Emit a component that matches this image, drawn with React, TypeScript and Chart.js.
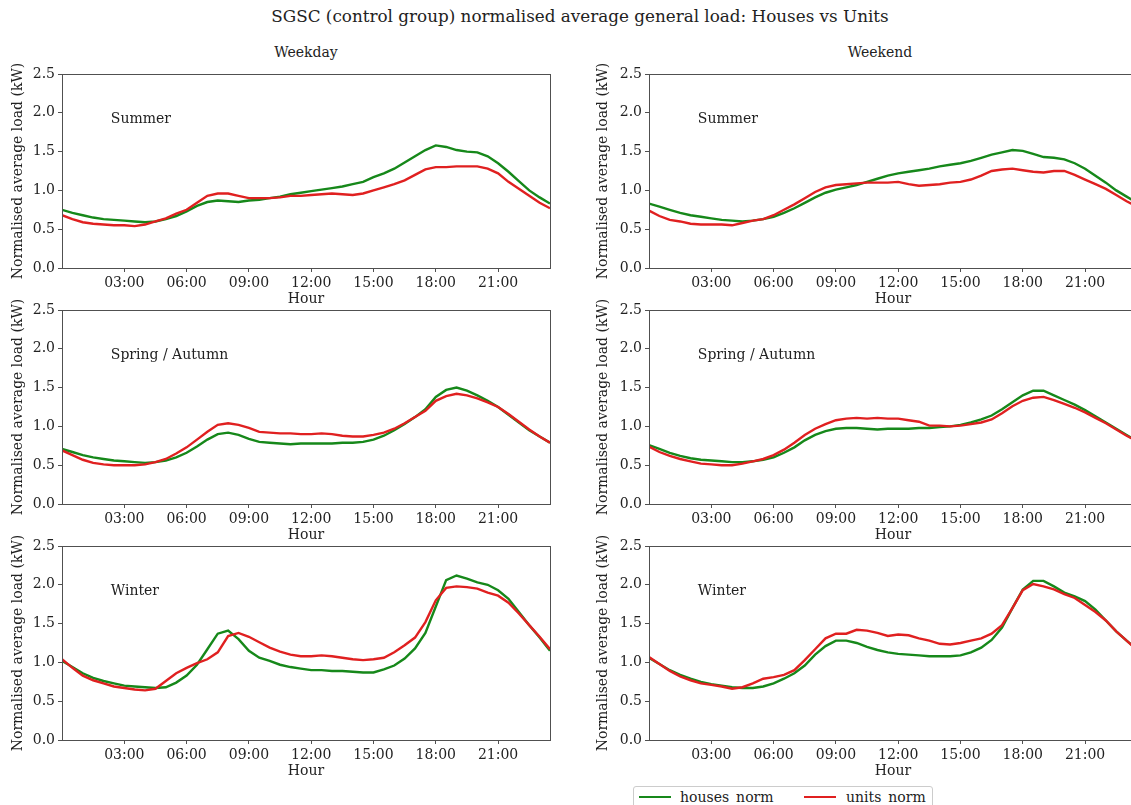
import React, { useEffect, useRef } from "react";
import { Chart, registerables } from "chart.js";

Chart.register(...registerables);

const HOURS = [0, 0.5, 1, 1.5, 2, 2.5, 3, 3.5, 4, 4.5, 5, 5.5, 6, 6.5, 7, 7.5, 8, 8.5, 9, 9.5, 10, 10.5, 11, 11.5, 12, 12.5, 13, 13.5, 14, 14.5, 15, 15.5, 16, 16.5, 17, 17.5, 18, 18.5, 19, 19.5, 20, 20.5, 21, 21.5, 22, 22.5, 23, 23.5];

const X_TICKS = [3, 6, 9, 12, 15, 18, 21];
const X_TICK_LABELS = ["03:00", "06:00", "09:00", "12:00", "15:00", "18:00", "21:00"];

const WD_SUMMER_HOUSES = [0.75, 0.71, 0.68, 0.65, 0.63, 0.62, 0.61, 0.60, 0.59, 0.60, 0.63, 0.67, 0.73, 0.80, 0.85, 0.87, 0.86, 0.85, 0.87, 0.88, 0.90, 0.92, 0.95, 0.97, 0.99, 1.01, 1.03, 1.05, 1.08, 1.11, 1.17, 1.22, 1.28, 1.36, 1.44, 1.52, 1.58, 1.56, 1.52, 1.50, 1.49, 1.44, 1.35, 1.24, 1.12, 1.00, 0.91, 0.83];
const WD_SUMMER_UNITS = [0.68, 0.63, 0.59, 0.57, 0.56, 0.55, 0.55, 0.54, 0.56, 0.60, 0.64, 0.70, 0.75, 0.84, 0.93, 0.96, 0.96, 0.93, 0.90, 0.90, 0.90, 0.91, 0.93, 0.93, 0.94, 0.95, 0.96, 0.95, 0.94, 0.96, 1.00, 1.04, 1.08, 1.13, 1.20, 1.27, 1.30, 1.30, 1.31, 1.31, 1.31, 1.28, 1.22, 1.11, 1.02, 0.93, 0.84, 0.77];

const WE_SUMMER_HOUSES = [0.83, 0.79, 0.75, 0.71, 0.68, 0.66, 0.64, 0.62, 0.61, 0.60, 0.61, 0.63, 0.66, 0.71, 0.77, 0.84, 0.91, 0.97, 1.01, 1.04, 1.07, 1.11, 1.15, 1.19, 1.22, 1.24, 1.26, 1.28, 1.31, 1.33, 1.35, 1.38, 1.42, 1.46, 1.49, 1.52, 1.51, 1.47, 1.43, 1.42, 1.40, 1.35, 1.28, 1.19, 1.10, 1.00, 0.92, 0.84];
const WE_SUMMER_UNITS = [0.74, 0.67, 0.62, 0.60, 0.57, 0.56, 0.56, 0.56, 0.55, 0.58, 0.61, 0.63, 0.68, 0.75, 0.82, 0.90, 0.98, 1.04, 1.07, 1.08, 1.09, 1.10, 1.10, 1.10, 1.11, 1.08, 1.06, 1.07, 1.08, 1.10, 1.11, 1.14, 1.19, 1.25, 1.27, 1.28, 1.26, 1.24, 1.23, 1.25, 1.25, 1.20, 1.14, 1.08, 1.02, 0.94, 0.86, 0.79];

const WD_SPRING_HOUSES = [0.71, 0.67, 0.63, 0.60, 0.58, 0.56, 0.55, 0.54, 0.53, 0.54, 0.56, 0.60, 0.66, 0.74, 0.83, 0.90, 0.92, 0.89, 0.84, 0.80, 0.79, 0.78, 0.77, 0.78, 0.78, 0.78, 0.78, 0.79, 0.79, 0.80, 0.83, 0.88, 0.95, 1.03, 1.12, 1.22, 1.38, 1.47, 1.50, 1.46, 1.40, 1.33, 1.25, 1.15, 1.05, 0.95, 0.87, 0.79];
const WD_SPRING_UNITS = [0.69, 0.63, 0.57, 0.53, 0.51, 0.50, 0.50, 0.50, 0.51, 0.54, 0.58, 0.65, 0.73, 0.83, 0.93, 1.02, 1.04, 1.02, 0.98, 0.93, 0.92, 0.91, 0.91, 0.90, 0.90, 0.91, 0.90, 0.88, 0.87, 0.87, 0.89, 0.92, 0.97, 1.04, 1.12, 1.20, 1.33, 1.39, 1.42, 1.40, 1.36, 1.31, 1.25, 1.16, 1.06, 0.96, 0.87, 0.79];

const WE_SPRING_HOUSES = [0.76, 0.71, 0.66, 0.62, 0.59, 0.57, 0.56, 0.55, 0.54, 0.54, 0.55, 0.57, 0.60, 0.66, 0.73, 0.82, 0.89, 0.94, 0.97, 0.98, 0.98, 0.97, 0.96, 0.97, 0.97, 0.97, 0.98, 0.98, 0.99, 1.00, 1.02, 1.05, 1.09, 1.14, 1.22, 1.31, 1.40, 1.46, 1.46, 1.40, 1.34, 1.28, 1.21, 1.13, 1.05, 0.97, 0.89, 0.81];
const WE_SPRING_UNITS = [0.74, 0.67, 0.62, 0.58, 0.55, 0.52, 0.51, 0.50, 0.50, 0.52, 0.55, 0.58, 0.63, 0.70, 0.79, 0.89, 0.97, 1.03, 1.08, 1.10, 1.11, 1.10, 1.11, 1.10, 1.10, 1.08, 1.06, 1.01, 1.01, 1.00, 1.01, 1.03, 1.05, 1.09, 1.17, 1.26, 1.33, 1.37, 1.38, 1.34, 1.29, 1.24, 1.18, 1.11, 1.04, 0.96, 0.88, 0.81];

const WD_WINTER_HOUSES = [1.02, 0.94, 0.86, 0.80, 0.76, 0.73, 0.70, 0.69, 0.68, 0.67, 0.68, 0.74, 0.83, 0.97, 1.17, 1.37, 1.41, 1.30, 1.15, 1.06, 1.02, 0.97, 0.94, 0.92, 0.90, 0.90, 0.89, 0.89, 0.88, 0.87, 0.87, 0.91, 0.96, 1.05, 1.18, 1.38, 1.72, 2.06, 2.12, 2.08, 2.03, 2.00, 1.93, 1.82, 1.65, 1.48, 1.32, 1.15];
const WD_WINTER_UNITS = [1.04, 0.93, 0.83, 0.77, 0.73, 0.69, 0.67, 0.65, 0.64, 0.66, 0.76, 0.86, 0.93, 0.99, 1.04, 1.13, 1.34, 1.38, 1.33, 1.26, 1.19, 1.14, 1.10, 1.08, 1.08, 1.09, 1.08, 1.06, 1.04, 1.03, 1.04, 1.06, 1.13, 1.22, 1.32, 1.52, 1.80, 1.96, 1.98, 1.97, 1.95, 1.90, 1.86, 1.77, 1.63, 1.48, 1.33, 1.17];

const WE_WINTER_HOUSES = [1.06, 0.98, 0.90, 0.84, 0.79, 0.75, 0.72, 0.70, 0.68, 0.67, 0.67, 0.69, 0.73, 0.79, 0.86, 0.96, 1.10, 1.21, 1.28, 1.28, 1.25, 1.20, 1.16, 1.13, 1.11, 1.10, 1.09, 1.08, 1.08, 1.08, 1.09, 1.13, 1.19, 1.29, 1.45, 1.70, 1.94, 2.05, 2.05, 1.98, 1.90, 1.85, 1.79, 1.68, 1.54, 1.40, 1.28, 1.17];
const WE_WINTER_UNITS = [1.07, 0.98, 0.89, 0.82, 0.77, 0.73, 0.71, 0.69, 0.66, 0.68, 0.73, 0.79, 0.81, 0.84, 0.90, 1.03, 1.17, 1.31, 1.37, 1.37, 1.42, 1.41, 1.38, 1.34, 1.36, 1.35, 1.31, 1.28, 1.24, 1.23, 1.25, 1.28, 1.31, 1.37, 1.48, 1.70, 1.93, 2.01, 1.98, 1.94, 1.88, 1.83, 1.74, 1.65, 1.54, 1.40, 1.28, 1.16];

const TITLE = "SGSC (control group) normalised average general load: Houses vs Units";
const COLUMN_TITLES = ["Weekday", "Weekend"];
const SEASONS = ["Summer", "Spring / Autumn", "Winter"];
const SERIES_NAMES = ["houses_norm", "units_norm"];
const Y_TITLE = "Normalised average load (kW)";
const X_TITLE = "Hour";

const GREEN = "#16881a";
const RED = "#e02020";
const AXIS = "#505050";
const TEXT = "#222222";
const FONT = "'DejaVu Serif', serif";

const PANELS = [
  { row: 0, col: 0, season: SEASONS[0], houses: WD_SUMMER_HOUSES, units: WD_SUMMER_UNITS },
  { row: 0, col: 1, season: SEASONS[0], houses: WE_SUMMER_HOUSES, units: WE_SUMMER_UNITS },
  { row: 1, col: 0, season: SEASONS[1], houses: WD_SPRING_HOUSES, units: WD_SPRING_UNITS },
  { row: 1, col: 1, season: SEASONS[1], houses: WE_SPRING_HOUSES, units: WE_SPRING_UNITS },
  { row: 2, col: 0, season: SEASONS[2], houses: WD_WINTER_HOUSES, units: WD_WINTER_UNITS },
  { row: 2, col: 1, season: SEASONS[2], houses: WE_WINTER_HOUSES, units: WE_WINTER_UNITS },
];

const ROW_TOPS = [74, 310, 546];
const PLOT_H = 194;
const PAD_TOP = 16;
const X_AXIS_H = 40;
const CANVAS_W = 560;
const COL_LEFTS = [0, 585];
const Y_AXIS_W = [62, 64];
const PAD_RIGHT = [10, 8];

function Panel({ panel }: { panel: any }) {
  const ref = useRef<HTMLCanvasElement | null>(null);
  useEffect(() => {
    if (!ref.current) return;
    const font = { family: FONT, size: 14 };
    const frame = {
      id: "frame",
      afterDatasetsDraw(chart: any) {
        const { ctx, chartArea } = chart;
        ctx.save();
        ctx.strokeStyle = AXIS;
        ctx.lineWidth = 1;
        ctx.strokeRect(
          Math.round(chartArea.left) + 0.5,
          Math.round(chartArea.top) + 0.5,
          Math.round(chartArea.right - chartArea.left),
          Math.round(chartArea.bottom - chartArea.top)
        );
        ctx.fillStyle = TEXT;
        ctx.font = `14px ${FONT}`;
        ctx.textAlign = "left";
        ctx.textBaseline = "alphabetic";
        const w = chartArea.right - chartArea.left;
        const h = chartArea.bottom - chartArea.top;
        ctx.fillText(panel.season, chartArea.left + 0.1 * w, chartArea.top + 0.25 * h);
        ctx.restore();
      },
    };
    const chart = new Chart(ref.current, {
      type: "line",
      data: {
        datasets: [
          {
            label: SERIES_NAMES[1],
            data: HOURS.map((h, i) => ({ x: h, y: panel.units[i] })),
            borderColor: RED,
            backgroundColor: RED,
            borderWidth: 2.4,
            pointRadius: 0,
            tension: 0,
            order: 0,
          },
          {
            label: SERIES_NAMES[0],
            data: HOURS.map((h, i) => ({ x: h, y: panel.houses[i] })),
            borderColor: GREEN,
            backgroundColor: GREEN,
            borderWidth: 2.4,
            pointRadius: 0,
            tension: 0,
            order: 1,
          },
        ],
      },
      options: {
        animation: false,
        responsive: false,
        maintainAspectRatio: false,
        layout: { padding: { left: 0, right: PAD_RIGHT[panel.col], top: PAD_TOP, bottom: 0 } },
        plugins: { legend: { display: false }, tooltip: { enabled: false } },
        scales: {
          x: {
            type: "linear",
            min: 0,
            max: 23.5,
            afterBuildTicks: (s: any) => {
              s.ticks = X_TICKS.map((v) => ({ value: v }));
            },
            afterFit: (s: any) => {
              s.height = X_AXIS_H;
            },
            ticks: {
              autoSkip: false,
              maxRotation: 0,
              padding: 3,
              color: TEXT,
              font,
              callback: (v: any) => {
                const i = X_TICKS.indexOf(Number(v));
                return i >= 0 ? X_TICK_LABELS[i] : "";
              },
            },
            grid: { drawOnChartArea: false, drawTicks: true, tickLength: 4, color: AXIS },
            border: { display: false },
            title: { display: true, text: X_TITLE, color: TEXT, font, padding: 0 },
          },
          y: {
            min: 0,
            max: 2.5,
            afterFit: (s: any) => {
              s.width = Y_AXIS_W[panel.col];
            },
            ticks: {
              stepSize: 0.5,
              padding: 3,
              color: TEXT,
              font,
              callback: (v: any) => Number(v).toFixed(1),
            },
            grid: { drawOnChartArea: false, drawTicks: true, tickLength: 4, color: AXIS },
            border: { display: false },
            title: { display: true, text: Y_TITLE, color: TEXT, font, padding: { top: 10, bottom: 0 } },
          },
        },
      },
      plugins: [frame],
    } as any);
    return () => chart.destroy();
  }, [panel]);
  const top = ROW_TOPS[panel.row] - PAD_TOP;
  const height = PAD_TOP + PLOT_H + X_AXIS_H;
  return (
    <canvas
      ref={ref}
      width={CANVAS_W}
      height={height}
      style={{ position: "absolute", left: COL_LEFTS[panel.col], top, width: CANVAS_W, height }}
    />
  );
}

const textStyle: React.CSSProperties = {
  position: "absolute",
  fontFamily: FONT,
  fontSize: 14,
  lineHeight: "16px",
  color: TEXT,
  whiteSpace: "nowrap",
  transform: "translateX(-50%)",
};

export default function App() {
  return (
    <div
      style={{
        position: "absolute",
        left: 0,
        top: 0,
        width: 1131,
        height: 805,
        overflow: "hidden",
        background: "#ffffff",
      }}
    >
      <div style={{ ...textStyle, left: 580, top: 6, fontSize: 16.8, lineHeight: "20px" }}>{TITLE}</div>
      <div style={{ ...textStyle, left: 306, top: 44 }}>{COLUMN_TITLES[0]}</div>
      <div style={{ ...textStyle, left: 880, top: 44 }}>{COLUMN_TITLES[1]}</div>
      {PANELS.map((p, i) => (
        <Panel key={i} panel={p} />
      ))}
      <div
        style={{
          position: "absolute",
          left: 633,
          top: 786,
          width: 298,
          height: 30,
          border: "1px solid #cccccc",
          borderRadius: 3,
          background: "#ffffff",
          fontFamily: FONT,
          fontSize: 14,
          color: TEXT,
        }}
      >
        <div style={{ position: "absolute", left: 5, top: 9, width: 32, height: 2.4, background: GREEN }} />
        <div style={{ position: "absolute", left: 46, top: 2, lineHeight: "16px", whiteSpace: "nowrap" }}>{SERIES_NAMES[0]}</div>
        <div style={{ position: "absolute", left: 170, top: 9, width: 32, height: 2.4, background: RED }} />
        <div style={{ position: "absolute", left: 212, top: 2, lineHeight: "16px", whiteSpace: "nowrap" }}>{SERIES_NAMES[1]}</div>
      </div>
    </div>
  );
}
